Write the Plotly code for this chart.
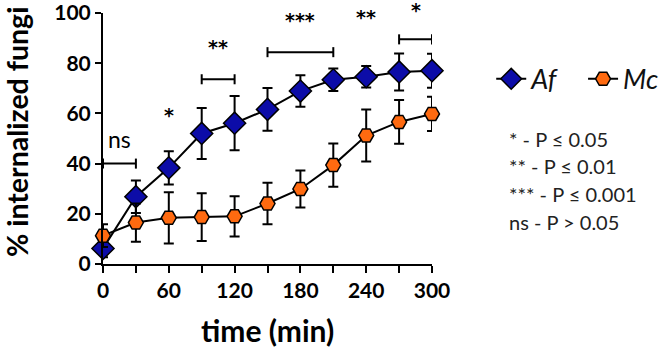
import plotly.graph_objects as go

time_min = [0, 30, 60, 90, 120, 150, 180, 210, 240, 270, 300]
af_mean = [6.2, 26.8, 38.3, 52.0, 56.1, 61.6, 68.9, 73.4, 74.6, 76.5, 77.0]
af_err = [3.5, 6.5, 6.6, 10.2, 10.8, 8.5, 6.3, 4.5, 4.3, 7.4, 6.8]
mc_mean = [11.3, 16.5, 18.4, 18.7, 19.0, 24.1, 29.9, 39.4, 51.2, 56.6, 59.8]
mc_err = [4.5, 7.6, 10.2, 9.5, 8.0, 8.3, 7.4, 8.6, 10.4, 8.7, 6.8]

x_ticks = [0, 60, 120, 180, 240, 300]
y_ticks = [0, 20, 40, 60, 80, 100]

# significance brackets: (x start, x end, y level)
brackets = [(0, 30, 40), (90, 120, 73.6), (150, 210, 84.4), (270, 300, 89.5)]
# significance labels: (text, x, y)
sig_labels = [("ns", 15, 50), ("*", 60, 59.5), ("**", 105, 86.5), ("***", 180, 97.3),
              ("**", 240, 98.5), ("*", 285, 101)]
p_legend = ["* - P ≤ 0.05", "** - P ≤ 0.01", "*** - P ≤ 0.001", "ns - P > 0.05"]

FONT = "Lato"
STAR_FONT = "DejaVu Sans"
Y_MAX = 100
PX_PER_UNIT = 2.515  # plot height / y range, used only to keep labels above the top inside range

fig = go.Figure()
fig.add_trace(go.Scatter(
    x=time_min, y=af_mean, name="<i>Af</i>&nbsp;&nbsp;&nbsp;", mode="lines+markers",
    line=dict(color="black", width=2),
    marker=dict(symbol="diamond", size=17, color="#0c0ca8", line=dict(color="black", width=1.5)),
    error_y=dict(type="data", array=af_err, visible=True, color="black", thickness=2, width=5),
    cliponaxis=False,
))
fig.add_trace(go.Scatter(
    x=time_min, y=mc_mean, name="<i>Mc</i>", mode="lines+markers",
    line=dict(color="black", width=2),
    marker=dict(symbol="hexagon2", size=15, color="#ff6a10", line=dict(color="black", width=1.5)),
    error_y=dict(type="data", array=mc_err, visible=True, color="black", thickness=2, width=5),
    cliponaxis=False,
))

cap = 2.0
for x0, x1, yv in brackets:
    fig.add_shape(type="line", x0=x0, x1=x1, y0=yv, y1=yv, xref="x", yref="y",
                  line=dict(color="black", width=2))
    for xe in (x0, x1):
        fig.add_shape(type="line", x0=xe, x1=xe, y0=yv - cap, y1=yv + cap, xref="x", yref="y",
                      line=dict(color="black", width=2))

for txt, xv, yv in sig_labels:
    if txt == "ns":
        f = dict(family=FONT, size=23, color="#000")
    else:
        f = dict(family=STAR_FONT, size=19, color="#000", weight="bold")
    shift = 0
    if yv > Y_MAX:
        shift = (yv - Y_MAX) * PX_PER_UNIT
        yv = Y_MAX
    fig.add_annotation(x=xv, y=yv, yshift=shift, text=txt, showarrow=False, xref="x", yref="y",
                       font=f, yanchor="middle")

for i, txt in enumerate(p_legend):
    fig.add_annotation(x=1.229, y=0.5 - i * 0.111, xref="paper", yref="paper", text=txt,
                       showarrow=False, xanchor="left", yanchor="middle",
                       font=dict(family=FONT, size=20, color="#222"))

# axis titles
fig.add_annotation(x=-0.262, y=0.525, xref="paper", yref="paper", text="<b>% internalized fungi</b>",
                   textangle=-90, showarrow=False, xanchor="center", yanchor="middle",
                   font=dict(family=FONT, size=28.5, color="black"))
fig.add_annotation(x=0.5, y=-0.263, xref="paper", yref="paper", text="<b>time (min)</b>",
                   showarrow=False, xanchor="center", yanchor="middle",
                   font=dict(family=FONT, size=30, color="black"))

fig.update_layout(
    width=661, height=350,
    margin=dict(l=103, r=229, t=13, b=86, autoexpand=False),
    paper_bgcolor="white", plot_bgcolor="white",
    font=dict(family=FONT, color="black"),
    showlegend=True,
    legend=dict(orientation="h", x=1.18, y=0.736, xanchor="left", yanchor="middle",
                font=dict(family=FONT, size=27, color="#111"), itemwidth=30,
                bgcolor="rgba(0,0,0,0)"),
    xaxis=dict(range=[0, 300], tickvals=x_ticks, showline=True, linecolor="black", linewidth=2,
               ticks="outside", ticklen=7, tickwidth=2, tickcolor="black", automargin=False,
               ticklabeloverflow="allow",
               minor=dict(dtick=30, tick0=0, ticks="outside", ticklen=7, tickwidth=2, tickcolor="black"),
               showgrid=False, zeroline=False,
               tickfont=dict(family=FONT, size=21, color="black", weight="bold")),
    yaxis=dict(range=[0, Y_MAX], tickvals=y_ticks, showline=True, linecolor="black", linewidth=2,
               ticks="outside", ticklen=6, tickwidth=2, tickcolor="black", automargin=False,
               ticklabeloverflow="allow",
               showgrid=False, zeroline=False,
               tickfont=dict(family=FONT, size=21, color="black", weight="bold")),
)

fig.write_html("out.html", config={"displayModeBar": False},
               post_script="document.body.style.margin='0';document.body.style.overflow='hidden';")
